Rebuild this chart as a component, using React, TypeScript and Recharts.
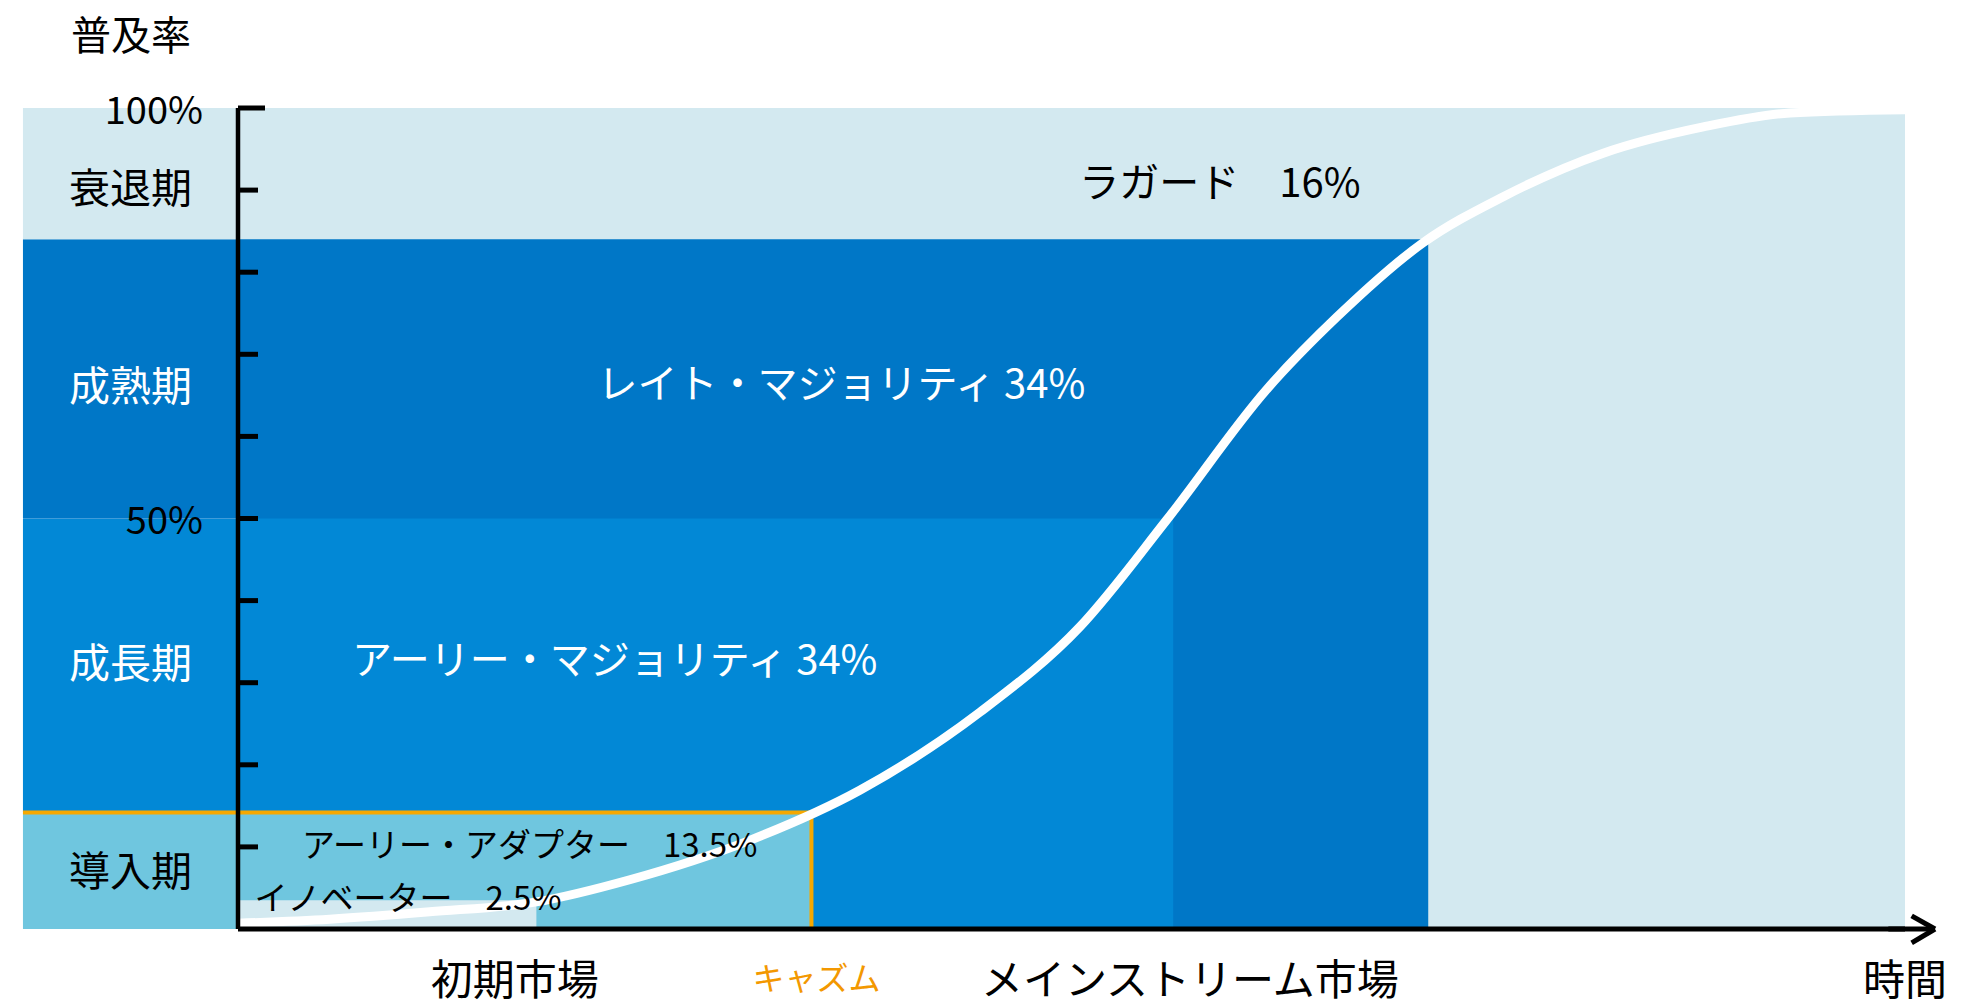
import React from 'react';
import {
  ComposedChart,
  Line,
  XAxis,
  YAxis,
  ReferenceArea,
  ReferenceLine,
  ReferenceDot,
} from 'recharts';

const FONT = '"Noto Sans CJK JP", "Noto Sans", sans-serif';
const TEXT_DY = -4; // central baseline sits a bit low for this font

// adopter groups, innermost first
const groupNames = ['イノベーター', 'アーリー・アダプター', 'アーリー・マジョリティ', 'レイト・マジョリティ', 'ラガード'];
const groupShares = [2.5, 13.5, 34, 34, 16];
const groupTops = [3.5, 14.2, 50, 84, 100]; // cumulative share as drawn
const groupEnds = [17.9, 34.4, 56.1, 71.4, 100]; // time where each block stops
const groupLabelX = [10.2, 17.5, 22.6, 36.2, 58.9];
const groupLabelY = [3.5, 10, 32.6, 66.3, 90.7];

// product life-cycle stages, left column
const stageNames = ['導入期', '成長期', '成熟期', '衰退期'];
const stageBottoms = [0, 14.2, 50, 84];
const stageTops = [14.2, 50, 84, 100];
const stageLabelY = [6.9, 32.3, 66, 90.1];
const LEFT_EDGE = -12.9;

// diffusion curve
const curveX = [0, 5.5, 11.5, 17.9, 23.5, 30.7, 37.3, 44.5, 50.5, 55.7, 61.7, 65.9, 71.1, 75.9, 81.9, 87.9, 93.1, 100];
const curveY = [0.7, 1.2, 2.1, 3.3, 6.0, 10.8, 16.9, 26.4, 36.8, 49.8, 65.7, 74.5, 83.6, 89.2, 94.5, 97.7, 99.4, 99.8];

const yTicks = [0, 10, 20, 30, 40, 50, 60, 70, 80, 90, 100];
const yTickLabels: Record<number, string> = { 100: '100%', 50: '50%' };

const marketNames = ['初期市場', 'キャズム', 'メインストリーム市場', '時間'];
const marketX = [16.6, 34.7, 57.1, 100];

const groupColors = ['#D3E9F0', '#6FC6DF', '#0288D6', '#0077C7', '#D3E9F0'];
const groupTextColors = ['#000', '#000', '#fff', '#fff', '#000'];
const stageColors = ['#6FC6DF', '#0288D6', '#0077C7', '#D3E9F0'];
const stageTextColors = ['#000', '#fff', '#fff', '#000'];
const ORANGE = '#F5A800';

const curveData = curveX.map((x, i) => ({ x, y: curveY[i] }));

const groupLabel = (i: number) => {
  const sep = i === 2 || i === 3 ? ' ' : '　';
  return `${groupNames[i]}${sep}${groupShares[i]}%`;
};

const YTick = (props: any) => {
  const { x, y, payload } = props;
  const v = payload.value;
  if (v === 0) return <g />;
  const text = yTickLabels[v];
  return (
    <g>
      <line x1={x} y1={y} x2={x + (v === 100 ? 27 : 20)} y2={y} stroke="#000" strokeWidth={5} />
      {text && (
        <text x={x - 35} y={y + 3 + TEXT_DY} textAnchor="end" dominantBaseline="central" fontSize={38} fontFamily={FONT} fill="#000">
          {text}
        </text>
      )}
    </g>
  );
};

const XTick = (props: any) => {
  const { x, y, payload } = props;
  const i = marketX.indexOf(payload.value);
  const name = marketNames[i];
  const chasm = name === 'キャズム';
  return (
    <text
      x={x}
      y={y + 51 + TEXT_DY}
      textAnchor="middle"
      dominantBaseline="central"
      fontSize={chasm ? 32 : 42}
      fontFamily={FONT}
      fill={chasm ? '#F39800' : '#000'}
    >
      {name}
    </text>
  );
};

const textShape = (text: string, color: string, size: number) => (p: any) => (
  <text x={p.cx} y={p.cy + TEXT_DY} textAnchor="middle" dominantBaseline="central" fontSize={size} fontFamily={FONT} fill={color}>
    {text}
  </text>
);

const App: React.FC = () => {
  const order = [4, 3, 2, 1, 0];
  return (
    <div style={{ position: 'absolute', left: 0, top: 0, background: '#fff' }}>
      <ComposedChart width={1988} height={1006} margin={{ top: 108, right: 83, bottom: 0, left: 0 }}>
        <XAxis
          type="number"
          dataKey="x"
          domain={[0, 100]}
          ticks={marketX}
          interval={0}
          height={77}
          tickLine={false}
          tickSize={0}
          tickMargin={0}
          tick={<XTick />}
          axisLine={{ stroke: '#000', strokeWidth: 5 }}
          allowDataOverflow
        />
        <YAxis
          type="number"
          domain={[0, 100]}
          ticks={yTicks}
          interval={0}
          width={238}
          tickLine={false}
          tickSize={0}
          tickMargin={0}
          tick={<YTick />}
          axisLine={{ stroke: '#000', strokeWidth: 4.5 }}
          label={{
            position: 'insideTopLeft',
            content: (p: any) => (
              <text
                x={p.viewBox.x + 131}
                y={p.viewBox.y - 71 + TEXT_DY}
                textAnchor="middle"
                dominantBaseline="central"
                fontSize={40}
                fontFamily={FONT}
                fill="#000"
              >
                普及率
              </text>
            ),
          }}
        />

        {stageNames.map((s, i) => (
          <ReferenceArea
            key={'st' + s}
            x1={LEFT_EDGE}
            x2={0}
            y1={stageBottoms[i]}
            y2={stageTops[i]}
            fill={stageColors[i]}
            fillOpacity={1}
            stroke="none"
            ifOverflow="visible"
          />
        ))}
        {order.map((i) => (
          <ReferenceArea
            key={'g' + i}
            x1={0}
            x2={groupEnds[i]}
            y1={0}
            y2={groupTops[i]}
            fill={groupColors[i]}
            fillOpacity={1}
            stroke="none"
            ifOverflow="visible"
          />
        ))}

        <ReferenceLine
          segment={[{ x: LEFT_EDGE, y: groupTops[1] }, { x: groupEnds[1], y: groupTops[1] }]}
          stroke={ORANGE}
          strokeWidth={4}
          ifOverflow="visible"
        />
        <ReferenceLine
          segment={[{ x: groupEnds[1], y: groupTops[1] }, { x: groupEnds[1], y: 0 }]}
          stroke={ORANGE}
          strokeWidth={4}
          ifOverflow="visible"
        />

        <Line
          data={curveData}
          dataKey="y"
          type="monotone"
          stroke="#fff"
          strokeWidth={9}
          dot={false}
          activeDot={false}
          isAnimationActive={false}
        />

        <ReferenceLine segment={[{ x: 99, y: 0 }, { x: 101.8, y: 0 }]} stroke="#000" strokeWidth={5} ifOverflow="visible" />
        <ReferenceLine segment={[{ x: 100.4, y: 1.6 }, { x: 101.8, y: 0 }]} stroke="#000" strokeWidth={5} ifOverflow="visible" />
        <ReferenceLine segment={[{ x: 100.4, y: -1.7 }, { x: 101.8, y: 0 }]} stroke="#000" strokeWidth={5} ifOverflow="visible" />

        {stageNames.map((s, i) => (
          <ReferenceDot
            key={'sl' + s}
            x={LEFT_EDGE / 2}
            y={stageLabelY[i]}
            r={0}
            ifOverflow="visible"
            shape={textShape(s, stageTextColors[i], 41)}
          />
        ))}
        {groupNames.map((g, i) => (
          <ReferenceDot
            key={'gl' + g}
            x={groupLabelX[i]}
            y={groupLabelY[i]}
            r={0}
            ifOverflow="visible"
            shape={textShape(groupLabel(i), groupTextColors[i], i < 2 ? 33 : 40)}
          />
        ))}
      </ComposedChart>
    </div>
  );
};

export default App;
